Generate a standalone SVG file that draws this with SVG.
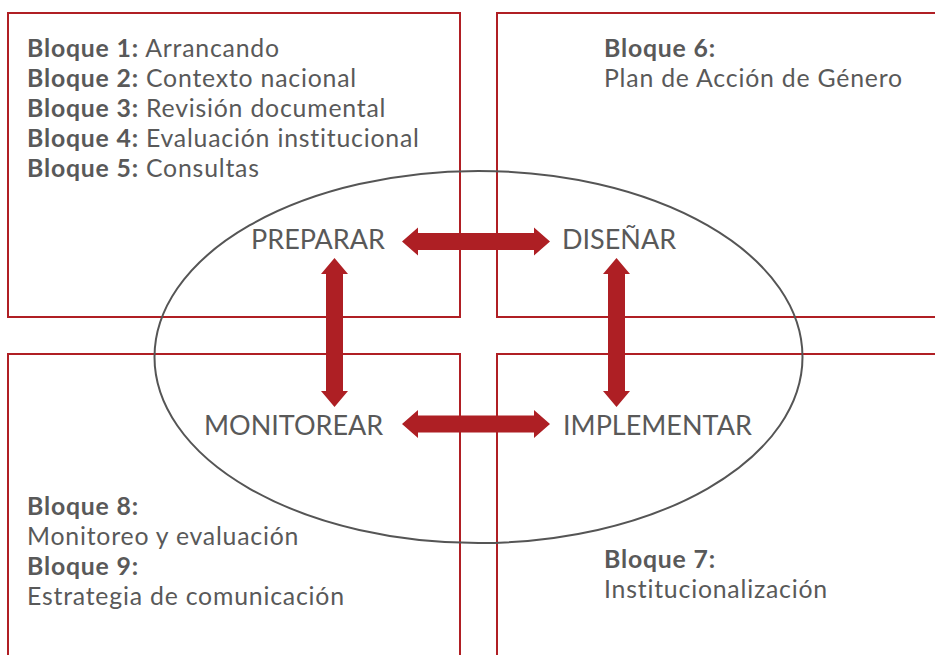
<svg xmlns="http://www.w3.org/2000/svg" width="935" height="655" viewBox="0 0 935 655">
<style>
.box{fill:none;stroke:#B01F24;stroke-width:2}
.t{font-family:Lato,"Open Sans",sans-serif;font-size:24.8px;letter-spacing:0.8px;fill:#595959}
.b{font-weight:bold}
.ph{font-family:Lato,"Open Sans",sans-serif;font-size:27px;fill:#595959}
.arr{fill:#AE1F24}
.ell{fill:none;stroke:#555555;stroke-width:2}
</style>
<rect width="935" height="655" fill="#ffffff"/>
<g id="block-prepare">
<rect class="box" x="8" y="13" width="452" height="304"/>
<text class="t" x="27" y="57"><tspan class="b">Bloque 1:</tspan> Arrancando<tspan x="27" dy="30" class="b">Bloque 2:</tspan> Contexto nacional<tspan x="27" dy="30" class="b">Bloque 3:</tspan> Revisión documental<tspan x="27" dy="30" class="b">Bloque 4:</tspan> Evaluación institucional<tspan x="27" dy="30" class="b">Bloque 5:</tspan> Consultas</text>
</g>
<g id="block-design">
<rect class="box" x="497" y="13" width="470" height="304"/>
<text class="t" x="604" y="57"><tspan class="b">Bloque 6:</tspan><tspan x="604" dy="30">Plan de Acción de Género</tspan></text>
</g>
<g id="block-monitor">
<rect class="box" x="8" y="354" width="452" height="340"/>
<text class="t" x="27" y="515"><tspan class="b">Bloque 8:</tspan><tspan x="27" dy="30">Monitoreo y evaluación</tspan><tspan x="27" dy="30" class="b">Bloque 9:</tspan><tspan x="27" dy="30">Estrategia de comunicación</tspan></text>
</g>
<g id="block-implement">
<rect class="box" x="497" y="354" width="470" height="340"/>
<text class="t" x="604" y="568"><tspan class="b">Bloque 7:</tspan><tspan x="604" dy="30">Institucionalización</tspan></text>
</g>
<g id="cycle">
<ellipse class="ell" cx="478.5" cy="357" rx="324" ry="186"/>
</g>
<g id="phase-preparar"><text class="ph" x="251" y="249">PREPARAR</text></g>
<g id="phase-disenar"><text class="ph" x="562" y="249">DISEÑAR</text></g>
<g id="phase-monitorear"><text class="ph" x="204" y="435">MONITOREAR</text></g>
<g id="phase-implementar"><text class="ph" x="563" y="435">IMPLEMENTAR</text></g>
<g id="connectors">
<polygon class="arr" points="402,241.5 418,227.5 418,233 534,233 534,227.5 550,241.5 534,255.5 534,250 418,250 418,255.5"/>
<polygon class="arr" points="402,424 418,410 418,415.5 534,415.5 534,410 550,424 534,438 534,432.5 418,432.5 418,438"/>
<polygon class="arr" points="334.5,258 348,274 343,274 343,391 348,391 334.5,407 321,391 326,391 326,274 321,274"/>
<polygon class="arr" points="616.5,258 630,274 625,274 625,391 630,391 616.5,407 603,391 608,391 608,274 603,274"/>
</g>
</svg>
